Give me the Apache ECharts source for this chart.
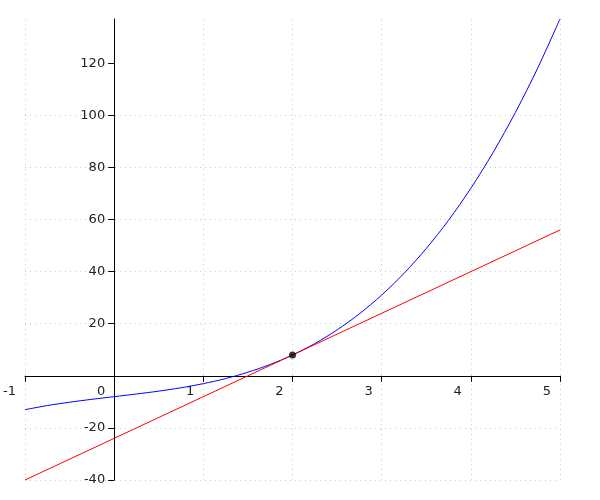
<!DOCTYPE html>
<html>
<head>
<meta charset="utf-8">
<script src="https://cdn.jsdelivr.net/npm/echarts@6/dist/echarts.min.js"></script>
<style>html,body{margin:0;padding:0;background:#fff}#c{width:600px;height:500px}</style>
</head>
<body>
<div id="c"></div>
<script>
// Curve samples
const curveX = [-1,-0.75,-0.5,-0.25,0,0.25,0.5,0.75,1,1.25,1.5,1.75,2,2.25,2.5,2.75,3,3.25,3.5,3.75,4,4.25,4.5,4.75,5];
const curveY = [-13,-11.42,-10.13,-9.02,-8,-6.98,-5.88,-4.58,-3,-1.05,1.38,4.36,8,12.39,17.63,23.8,31,39.33,48.88,59.73,72,85.77,101.13,118.17,137];
// Tangent line end points
const lineX = [-1, 5];
const lineY = [-40, 56];
// Point of tangency
const pointX = [2];
const pointY = [8];
// Tick labels
const yTicks = [-40, -20, 20, 40, 60, 80, 100, 120];

const curve = curveX.map((x, i) => [x, curveY[i]]);
const line = lineX.map((x, i) => [x, lineY[i]]);
const pt = pointX.map((x, i) => [x, pointY[i]]);

const font = 'DejaVu Sans';
const xMin = -1, xMax = 5, yMin = -40, yMax = 137;
const chart = echarts.init(document.getElementById('c'), null, {renderer: 'canvas'});
chart.setOption({
  animation: false,
  grid: {left: 25, right: 40, top: 19, bottom: 20, containLabel: false, outerBoundsMode: 'none'},
  xAxis: {
    type: 'value', min: xMin, max: xMax, interval: 1, position: 'bottom',
    axisLine: {onZero: false, lineStyle: {color: '#000', width: 1}},
    axisTick: {show: true, length: 6, lineStyle: {color: '#000'}},
    axisLabel: {color: '#222', fontFamily: font, fontSize: 13, margin: 9, align: 'right', padding: [0, 9, 0, 0]},
    splitLine: {show: true, lineStyle: {color: '#ccc', type: [1, 4], width: 1}}
  },
  yAxis: {
    type: 'value', min: yMin, max: yMax, interval: 20, position: 'left',
    axisLine: {onZero: false, lineStyle: {color: '#000', width: 1}},
    axisTick: {show: true, length: 6, lineStyle: {color: '#000'}, customValues: yTicks},
    axisLabel: {color: '#222', fontFamily: font, fontSize: 13, margin: 9, customValues: yTicks},
    splitLine: {show: true, showMaxLine: false, lineStyle: {color: '#ccc', type: [1, 4], width: 1}}
  },
  series: [
    {type: 'line', data: curve, smooth: 0.3, showSymbol: false, lineStyle: {color: '#0000ff', width: 1}, z: 3},
    {type: 'line', data: line, showSymbol: false, lineStyle: {color: '#ff0000', width: 1}, z: 4},
    {type: 'scatter', data: pt, symbolSize: 7, itemStyle: {color: '#000'}, z: 5}
  ]
});
// Move both axes onto the zero lines using the library's own scale
const pZero = chart.convertToPixel({gridIndex: 0}, [0, 0]);
const pMin = chart.convertToPixel({gridIndex: 0}, [xMin, yMin]);
chart.setOption({
  xAxis: {offset: -(pMin[1] - pZero[1])},
  yAxis: {offset: -(pZero[0] - pMin[0])}
});
</script>
</body>
</html>
